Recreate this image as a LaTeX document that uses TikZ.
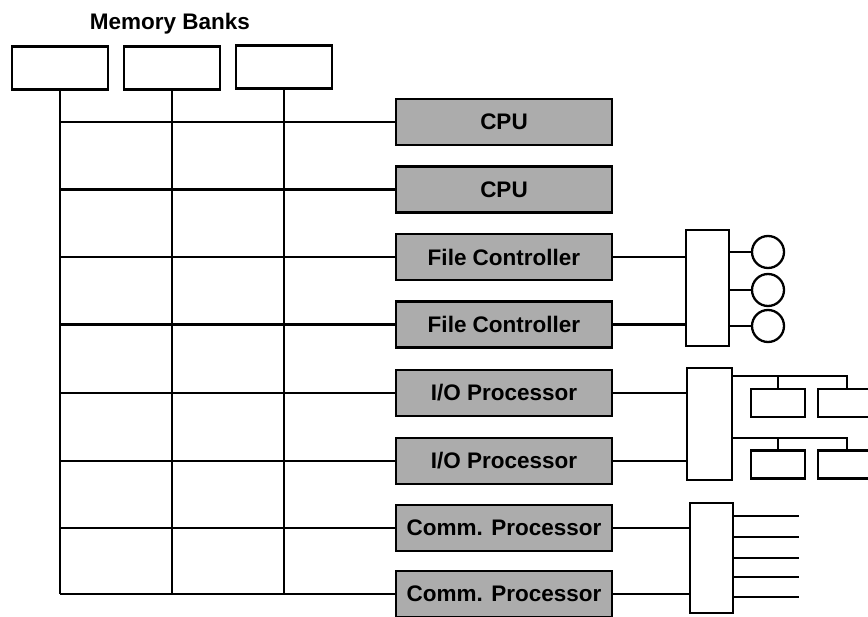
\documentclass[tikz,border=0pt]{standalone}
\usepackage{fontspec}
\setmainfont{Liberation Sans}
\usepackage{tikz}
\usetikzlibrary{positioning,calc}
\definecolor{procgray}{RGB}{172,172,172}

\begin{document}
\begin{tikzpicture}[
  x=1pt, y=-1pt,
  wire/.style={line width=2.3pt},
  bank/.style={draw,line width=2.3pt,minimum width=96pt,minimum height=43pt,inner sep=0pt},
  proc/.style={draw,line width=2.3pt,fill=procgray,minimum width=216pt,minimum height=46pt,
               inner sep=0pt,font=\fontsize{22.5}{26}\selectfont\bfseries},
  hub/.style={draw,line width=2.3pt,fill=white,inner sep=0pt},
  disk/.style={draw,circle,line width=2.3pt,minimum size=32pt,inner sep=0pt},
  device/.style={draw,line width=2.3pt,minimum width=54pt,minimum height=28pt,inner sep=0pt}
]
\useasboundingbox (0,0) rectangle (868,617);

\node[font=\fontsize{22.5}{26}\selectfont\bfseries] (title) at (170,24) {Memory Banks};
\node[bank] (mb1) at (60,68) {};
\node[bank] (mb2) at (172,68) {};
\node[bank] (mb3) at (284,67) {};

\node[proc] (cpu1) at (504,122) {CPU};
\node[proc] (cpu2) at (504,189.5) {CPU};
\node[proc] (fc1)  at (504,257) {File Controller};
\node[proc] (fc2)  at (504,324.5) {File Controller};
\node[proc] (io1)  at (504,393) {I/O Processor};
\node[proc] (io2)  at (504,461) {I/O Processor};
\node[proc] (cp1)  at (504,528) {Comm. Processor};
\node[proc] (cp2)  at (504,594) {Comm. Processor};

\foreach \m in {mb1,mb2,mb3}
  \draw[wire] (\m.south) -- (\m.south |- cp2.west);
\foreach \p in {cpu1,cpu2,fc1,fc2,io1,io2,cp1,cp2}
  \draw[wire] (mb1.south |- \p.west) -- (\p.west);

\node[hub,minimum width=43pt,minimum height=116pt] (fchub) at (707.5,288) {};
\node[hub,minimum width=45pt,minimum height=112pt] (iohub) at (709.5,424) {};
\node[hub,minimum width=43pt,minimum height=110pt] (commhub) at (711.5,558) {};

\draw[wire] (fc1.east) -- (fchub.west |- fc1.east);
\draw[wire] (fc2.east) -- (fchub.west |- fc2.east);
\draw[wire] (io1.east) -- (iohub.west |- io1.east);
\draw[wire] (io2.east) -- (iohub.west |- io2.east);
\draw[wire] (cp1.east) -- (commhub.west |- cp1.east);
\draw[wire] (cp2.east) -- (commhub.west |- cp2.east);

\node[disk] (disk1) at (768,252) {};
\node[disk] (disk2) at (768,290) {};
\node[disk] (disk3) at (768,326) {};
\foreach \d in {disk1,disk2,disk3}
  \draw[wire] (fchub.east |- \d.west) -- (\d.west);

\node[device] (dev1) at (778,403) {};
\node[device,minimum width=58pt] (dev2) at (847,403) {};
\node[device] (dev3) at (778,464.5) {};
\node[device,minimum width=58pt] (dev4) at (847,464.5) {};
\coordinate (br1) at (iohub.east |- 0,376);
\coordinate (br2) at (iohub.east |- 0,438);
\draw[wire] (br1) -| (dev2.north);
\draw[wire] (dev1.north) -- (dev1.north |- br1);
\draw[wire] (br2) -| (dev4.north);
\draw[wire] (dev3.north) -- (dev3.north |- br2);

\foreach \y [count=\i] in {516,537,558,577,597} {
  \coordinate (line\i) at (799,\y);
  \draw[wire] (commhub.east |- line\i) -- (line\i);
}
\end{tikzpicture}
\end{document}
